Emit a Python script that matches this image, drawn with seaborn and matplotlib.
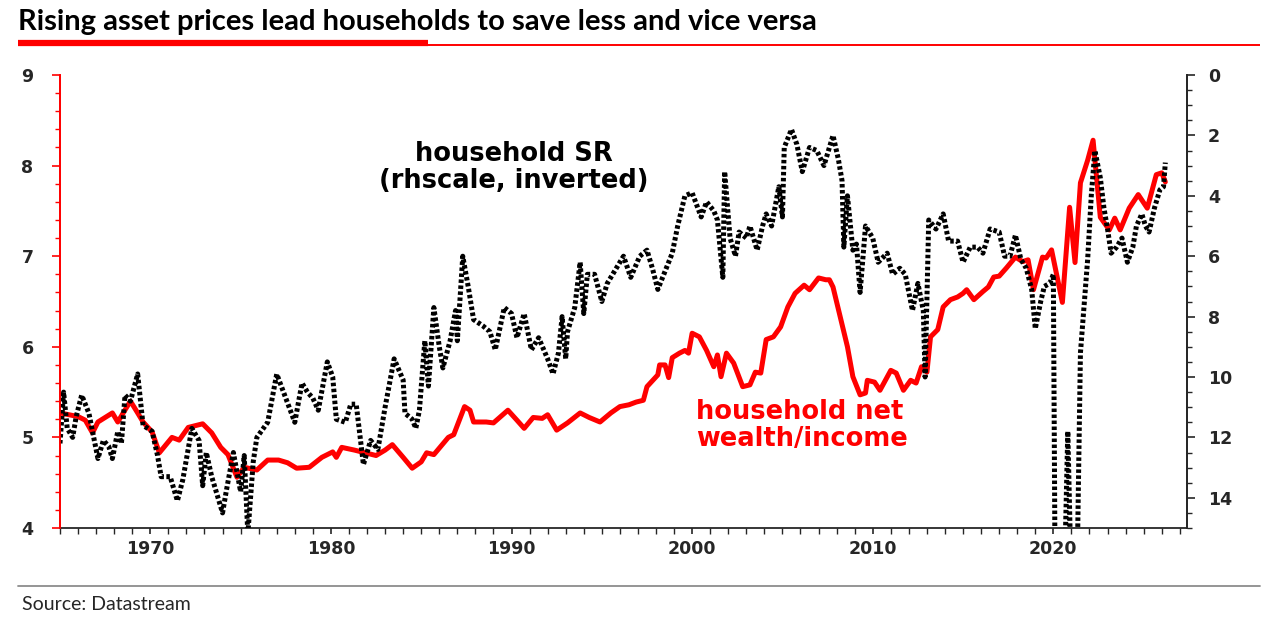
### household net wealth/income vs household saving rate (inverted)

import matplotlib
matplotlib.use('Agg')
import matplotlib.pyplot as plt
from matplotlib.lines import Line2D
from matplotlib.ticker import MultipleLocator
import seaborn as sns

# household net wealth / income (lhs)
nw_years = [1965.0, 1966.0, 1966.4, 1966.8, 1967.1, 1967.9, 1968.2, 1968.5, 1968.9, 1969.3,
            1969.6, 1970.1, 1970.5, 1971.2, 1971.6, 1972.1, 1972.9, 1973.4, 1973.9, 1974.3,
            1974.8, 1975.2, 1975.9, 1976.5, 1977.1, 1977.6, 1978.1, 1978.8, 1979.5, 1980.1,
            1980.3, 1980.6, 1981.3, 1981.9, 1982.5, 1983.0, 1983.4, 1984.0, 1984.5, 1985.0,
            1985.3, 1985.7, 1986.5, 1986.8, 1987.4, 1987.7, 1987.9, 1988.6, 1989.0, 1989.8,
            1990.3, 1990.7, 1991.2, 1991.7, 1992.0, 1992.5, 1993.1, 1993.8, 1994.3, 1994.9,
            1995.5, 1996.0, 1996.5, 1996.9, 1997.3, 1997.5, 1998.1, 1998.2, 1998.5, 1998.7,
            1998.9, 1999.3, 1999.6, 1999.8, 2000.0, 2000.4, 2000.8, 2001.2, 2001.4, 2001.6,
            2001.9, 2002.3, 2002.8, 2003.2, 2003.5, 2003.8, 2004.1, 2004.5, 2004.9, 2005.3,
            2005.7, 2006.2, 2006.5, 2007.0, 2007.4, 2007.6, 2007.8, 2008.2, 2008.6, 2008.9,
            2009.3, 2009.6, 2009.7, 2010.1, 2010.4, 2011.0, 2011.3, 2011.7, 2012.1, 2012.4,
            2012.7, 2013.0, 2013.2, 2013.6, 2013.9, 2014.3, 2014.7, 2015.0, 2015.2, 2015.6,
            2016.1, 2016.4, 2016.7, 2017.0, 2017.4, 2017.9, 2018.3, 2018.6, 2018.9, 2019.4,
            2019.6, 2019.9, 2020.5, 2020.9, 2021.2, 2021.5, 2021.9, 2022.2, 2022.6, 2023.1,
            2023.4, 2023.7, 2024.2, 2024.7, 2025.2, 2025.7, 2026.0, 2026.2]
nw_vals = [5.27, 5.23, 5.19, 5.05, 5.17, 5.27, 5.17, 5.27, 5.40, 5.27,
           5.17, 5.06, 4.83, 5.00, 4.97, 5.11, 5.15, 5.05, 4.89, 4.81,
           4.56, 4.67, 4.64, 4.75, 4.75, 4.72, 4.66, 4.67, 4.78, 4.84,
           4.78, 4.89, 4.86, 4.83, 4.80, 4.86, 4.92, 4.78, 4.66, 4.73,
           4.83, 4.81, 5.00, 5.03, 5.34, 5.30, 5.17, 5.17, 5.16, 5.30,
           5.19, 5.10, 5.22, 5.21, 5.25, 5.08, 5.16, 5.27, 5.22, 5.17,
           5.27, 5.34, 5.36, 5.39, 5.41, 5.56, 5.69, 5.80, 5.80, 5.66,
           5.88, 5.93, 5.96, 5.93, 6.15, 6.11, 5.96, 5.78, 5.91, 5.67,
           5.93, 5.82, 5.56, 5.58, 5.72, 5.71, 6.08, 6.11, 6.22, 6.44,
           6.59, 6.68, 6.63, 6.76, 6.74, 6.74, 6.66, 6.33, 6.00, 5.67,
           5.47, 5.49, 5.63, 5.61, 5.52, 5.74, 5.71, 5.52, 5.63, 5.60,
           5.78, 5.72, 6.11, 6.19, 6.44, 6.52, 6.55, 6.59, 6.63, 6.52,
           6.61, 6.66, 6.77, 6.78, 6.87, 6.99, 6.94, 6.96, 6.63, 6.99,
           6.98, 7.07, 6.49, 7.54, 6.93, 7.81, 8.06, 8.28, 7.43, 7.29,
           7.42, 7.29, 7.53, 7.68, 7.53, 7.90, 7.92, 7.82]

# household saving rate (rhs, inverted) - values past 15 are off the scale
sr_years = [1965.0, 1965.2, 1965.4, 1965.7, 1965.9, 1966.2, 1966.6, 1966.8, 1967.1, 1967.4,
            1967.7, 1967.9, 1968.2, 1968.4, 1968.6, 1968.9, 1969.3, 1969.6, 1970.1, 1970.4,
            1970.6, 1971.1, 1971.5, 1971.8, 1972.3, 1972.7, 1972.9, 1973.1, 1973.4, 1974.0,
            1974.2, 1974.6, 1975.0, 1975.2, 1975.4, 1975.7, 1975.9, 1976.5, 1977.0, 1977.5,
            1978.0, 1978.4, 1978.7, 1979.0, 1979.3, 1979.8, 1980.1, 1980.3, 1980.8, 1981.1,
            1981.4, 1981.8, 1982.2, 1982.6, 1983.0, 1983.5, 1984.0, 1984.1, 1984.5, 1984.7,
            1984.9, 1985.2, 1985.4, 1985.7, 1986.0, 1986.2, 1986.6, 1986.9, 1987.0, 1987.3,
            1987.6, 1987.9, 1988.4, 1988.8, 1989.1, 1989.6, 1990.0, 1990.3, 1990.7, 1991.1,
            1991.5, 1992.0, 1992.3, 1992.6, 1992.8, 1993.0, 1993.1, 1993.5, 1993.8, 1994.0,
            1994.2, 1994.6, 1995.0, 1995.3, 1995.6, 1996.2, 1996.6, 1997.1, 1997.5, 1997.8,
            1998.1, 1998.5, 1998.9, 1999.2, 1999.6, 2000.0, 2000.5, 2000.8, 2001.2, 2001.4,
            2001.7, 2001.8, 2002.1, 2002.4, 2002.6, 2003.0, 2003.2, 2003.6, 2003.9, 2004.1,
            2004.4, 2004.8, 2005.0, 2005.1, 2005.5, 2005.8, 2006.1, 2006.5, 2006.9, 2007.3,
            2007.8, 2008.1, 2008.3, 2008.4, 2008.6, 2008.9, 2009.1, 2009.3, 2009.6, 2010.0,
            2010.3, 2010.8, 2011.1, 2011.5, 2011.8, 2012.2, 2012.5, 2012.8, 2012.9, 2013.1,
            2013.5, 2013.9, 2014.2, 2014.7, 2015.0, 2015.4, 2015.8, 2016.1, 2016.5, 2017.0,
            2017.3, 2017.6, 2017.9, 2018.2, 2018.5, 2018.8, 2019.0, 2019.3, 2019.5, 2019.8,
            2020.0, 2020.1, 2020.6, 2020.8, 2021.0, 2021.3, 2021.5, 2021.9, 2022.1, 2022.3,
            2022.6, 2022.8, 2023.0, 2023.2, 2023.5, 2023.8, 2024.1, 2024.4, 2024.6, 2024.9,
            2025.1, 2025.3, 2025.6, 2025.9, 2026.1, 2026.2]
sr_vals = [12.2, 10.5, 11.7, 12.0, 11.3, 10.6, 11.2, 11.8, 12.7, 12.1,
           12.3, 12.7, 11.8, 12.2, 10.6, 10.8, 9.9, 11.6, 11.8, 12.6,
           13.3, 13.3, 14.1, 13.4, 11.7, 12.1, 13.6, 12.5, 13.3, 14.5,
           13.8, 12.5, 13.8, 12.6, 15.2, 12.8, 12.0, 11.5, 9.9, 10.7,
           11.5, 10.2, 10.5, 10.7, 11.1, 9.5, 10.0, 11.4, 11.5, 10.9,
           10.9, 12.9, 12.1, 12.4, 11.0, 9.4, 10.1, 11.2, 11.4, 11.7,
           11.1, 8.8, 10.3, 7.7, 9.0, 9.7, 8.8, 7.8, 8.8, 6.0,
           7.0, 8.1, 8.3, 8.5, 9.1, 7.7, 7.9, 8.7, 7.9, 9.1,
           8.7, 9.4, 9.9, 9.2, 8.0, 9.4, 8.5, 7.7, 6.2, 7.9,
           6.6, 6.6, 7.5, 6.9, 6.6, 6.0, 6.7, 6.0, 5.8, 6.4,
           7.1, 6.5, 5.9, 5.0, 4.0, 3.9, 4.7, 4.2, 4.5, 4.8,
           6.7, 3.2, 5.4, 6.0, 5.2, 5.4, 5.0, 5.8, 5.0, 4.6,
           5.0, 3.7, 4.7, 2.4, 1.8, 2.3, 3.2, 2.4, 2.5, 3.0,
           2.0, 2.8, 3.5, 5.7, 4.0, 5.8, 5.6, 7.2, 5.0, 5.4,
           6.2, 5.9, 6.6, 6.4, 6.6, 7.8, 6.9, 7.8, 10.0, 4.8,
           5.1, 4.6, 5.5, 5.5, 6.2, 5.7, 5.7, 5.9, 5.1, 5.2,
           6.0, 6.0, 5.3, 6.1, 6.4, 7.1, 8.4, 7.5, 7.0, 6.9,
           6.6, 17.0, 17.0, 11.8, 17.0, 17.0, 9.2, 6.1, 4.0, 2.5,
           3.4, 4.4, 5.1, 5.9, 5.7, 5.4, 6.2, 5.7, 5.0, 4.6,
           5.0, 5.2, 4.4, 3.8, 3.7, 2.9]

sns.set_style('ticks')
plt.rcParams['font.family'] = ['DejaVu Sans']

fig = plt.figure(figsize=(12.8, 6.26), dpi=100)
ax = fig.add_axes([60/1280, 1 - 528/626, 1127/1280, 453/626])
ax2 = ax.twinx()

sns.lineplot(x=nw_years, y=nw_vals, ax=ax, color='#ff0000', lw=3.6, sort=False)
sns.lineplot(x=sr_years, y=sr_vals, ax=ax2, color='black', lw=3.6, sort=False,
             linestyle=(0, (0.7, 0.5)))

# axes ranges and ticks
ax.set_xlim(1965, 2027.4)
ax.set_ylim(4, 9)
ax2.set_ylim(15, 0)
ax.xaxis.set_major_locator(MultipleLocator(10))
ax.xaxis.set_minor_locator(MultipleLocator(1))
ax.yaxis.set_major_locator(MultipleLocator(1))
ax.yaxis.set_minor_locator(MultipleLocator(0.2))
ax2.yaxis.set_major_locator(MultipleLocator(2))
ax2.yaxis.set_minor_locator(MultipleLocator(0.5))
ax.set_xlabel('')
ax.set_ylabel('')
ax2.set_ylabel('')

for a in (ax, ax2):
    a.spines['top'].set_visible(False)
    for s in a.spines.values():
        s.set_linewidth(1.3)
ax.spines['left'].set_color('#ff0000')
ax2.spines['left'].set_color('#ff0000')
ax2.spines['bottom'].set_visible(False)

ax.tick_params(axis='y', which='major', length=6, width=1.2, color='#ff0000', pad=13,
               labelsize=12.5)
ax.tick_params(axis='y', which='minor', length=3.5, width=1.0, color='#ff0000')
ax.tick_params(axis='x', which='major', length=4, width=1.2, pad=5, labelsize=12.5)
ax.tick_params(axis='x', which='minor', length=4, width=1.0)
ax2.tick_params(axis='y', which='major', length=6, width=1.2, pad=9, labelsize=12.5)
ax2.tick_params(axis='y', which='minor', length=3.5, width=1.0)
for lab in ax.get_xticklabels() + ax.get_yticklabels() + ax2.get_yticklabels():
    lab.set_fontweight('heavy')

# annotations
ax.text(0.403, 0.795, 'household SR\n(rhscale, inverted)', transform=ax.transAxes,
        ha='center', va='center', fontsize=18.5, fontweight='heavy', color='black',
        linespacing=1.05)
ax.text(0.5645, 0.227, 'household net\nwealth/income', transform=ax.transAxes,
        ha='left', va='center', fontsize=18.5, fontweight='heavy', color='#ff0000',
        linespacing=1.05)

# title, rules and source
fig.text(18/1280, 1 - 22/626, 'Rising asset prices lead households to save less and vice versa',
         ha='left', va='center', fontsize=21, fontweight='bold', color='black',
         family=['Lato', 'DejaVu Sans'])
fig.add_artist(Line2D([18/1280, 428/1280], [1 - 43/626, 1 - 43/626], color='#ff0000', lw=4.5,
                      solid_capstyle='butt'))
fig.add_artist(Line2D([428/1280, 1260/1280], [1 - 44.5/626, 1 - 44.5/626], color='#ff0000', lw=1.4,
                      solid_capstyle='butt'))
fig.add_artist(Line2D([18/1280, 1260/1280], [1 - 586/626, 1 - 586/626], color='#8c8c8c', lw=1.3))
fig.text(22/1280, 1 - 604/626, 'Source: Datastream', ha='left', va='center', fontsize=14,
         family=['Lato', 'DejaVu Sans'])

fig.savefig('out.png', dpi=100)
